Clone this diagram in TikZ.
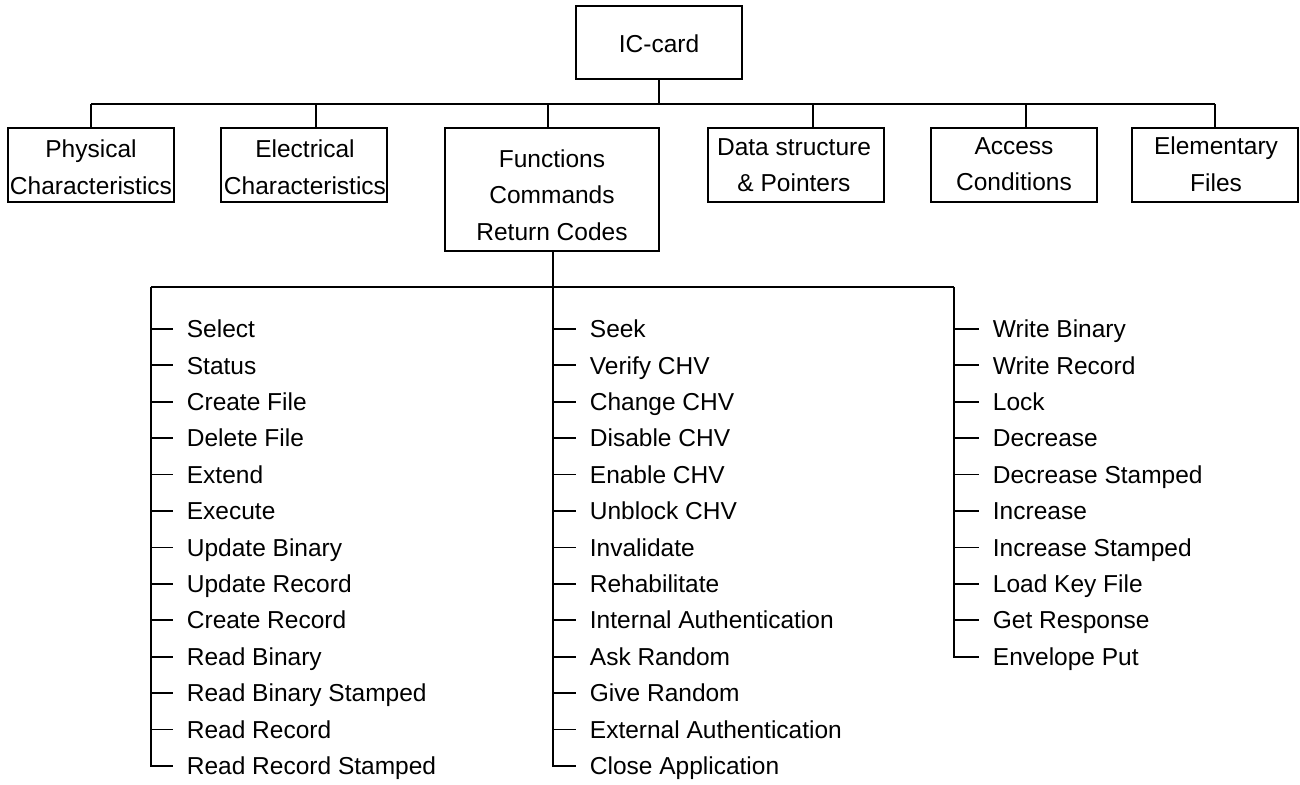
\documentclass[tikz,border=0pt]{standalone}
\usepackage{fontspec}
\setmainfont{Liberation Sans}
\begin{document}
\begin{tikzpicture}[x=0.5pt,y=-0.5pt,line width=0.9pt,
  box/.style={draw,line width=0.9pt,inner sep=0pt},
  boxtext/.style={align=center,inner sep=0pt,font=\fontsize{12.25pt}{18.25pt}\selectfont},
  item/.style={anchor=west,inner xsep=6.5pt,inner ysep=0pt,text height=8.77pt,text depth=0pt,
    font=\fontsize{12.25pt}{14pt}\selectfont}]
\useasboundingbox (0,0) rectangle (1300,785);

% top level boxes
\node[box,minimum width=83pt,minimum height=36.5pt] (ic) at (659,42.5) {};
\node[boxtext] (ic-t) at (659,44) {IC-card};

\node[box,minimum width=83pt,minimum height=37pt] (phys) at (91,165) {};
\node[boxtext] (phys-t) at (91,167) {Physical\\Characteristics};

\node[box,minimum width=83pt,minimum height=37pt] (elec) at (304,165) {};
\node[boxtext] (elec-t) at (305,167) {Electrical\\Characteristics};

\node[box,minimum width=107pt,minimum height=61.5pt] (func) at (552,189.5) {};
\node[boxtext] (func-t) at (552,195) {Functions\\Commands\\Return Codes};

\node[box,minimum width=88pt,minimum height=37pt] (data) at (796,165) {};
\node[boxtext] (data-t) at (794,165) {Data structure\\\& Pointers};

\node[box,minimum width=83pt,minimum height=37pt] (acc) at (1014,165) {};
\node[boxtext] (acc-t) at (1014,164) {Access\\Conditions};

\node[box,minimum width=83pt,minimum height=37pt] (elem) at (1215,165) {};
\node[boxtext] (elem-t) at (1216,164) {Elementary\\Files};

% upper bus
\coordinate (busL) at (91,104);
\coordinate (busR) at (1215,104);
\coordinate (d2) at (316,104);
\coordinate (d3) at (548,104);
\coordinate (d4) at (813,104);
\coordinate (d5) at (1026,104);
\draw (ic.south) -- (ic.south |- busL);
\draw (busL) -- (busR);
\draw (busL) -- (phys.north);
\draw (d2) -- (d2 |- elec.north);
\draw (d3) -- (d3 |- func.north);
\draw (d4) -- (d4 |- data.north);
\draw (d5) -- (d5 |- acc.north);
\draw (busR) -- (elem.north);

% lower bus
\coordinate (s1) at (151,287);
\coordinate (s2) at (553,287);
\coordinate (s3) at (954,287);
\draw (s2 |- func.south) -- (s2);
\draw (s1) -- (s3);

% first column
\foreach \t [count=\i] in {Select,Status,Create File,Delete File,Extend,Execute,Update Binary,
  Update Record,Create Record,Read Binary,Read Binary Stamped,Read Record,Read Record Stamped}
  \node[item] (a\i) at (173,{329+(\i-1)*36.4}) {\t};
\draw (s1) |- (a13.west);
\foreach \i in {1,...,12} \draw (a\i.west -| s1) -- (a\i.west);

% second column
\foreach \t [count=\i] in {Seek,Verify CHV,Change CHV,Disable CHV,Enable CHV,Unblock CHV,Invalidate,
  Rehabilitate,Internal Authentication,Ask Random,Give Random,External Authentication,Close Application}
  \node[item] (b\i) at (576,{329+(\i-1)*36.4}) {\t};
\draw (s2) |- (b13.west);
\foreach \i in {1,...,12} \draw (b\i.west -| s2) -- (b\i.west);

% third column
\foreach \t [count=\i] in {Write Binary,Write Record,Lock,Decrease,Decrease Stamped,Increase,
  Increase Stamped,Load Key File,Get Response,Envelope Put}
  \node[item] (c\i) at (979,{329+(\i-1)*36.4}) {\t};
\draw (s3) |- (c10.west);
\foreach \i in {1,...,9} \draw (c\i.west -| s3) -- (c\i.west);
\end{tikzpicture}
\end{document}
